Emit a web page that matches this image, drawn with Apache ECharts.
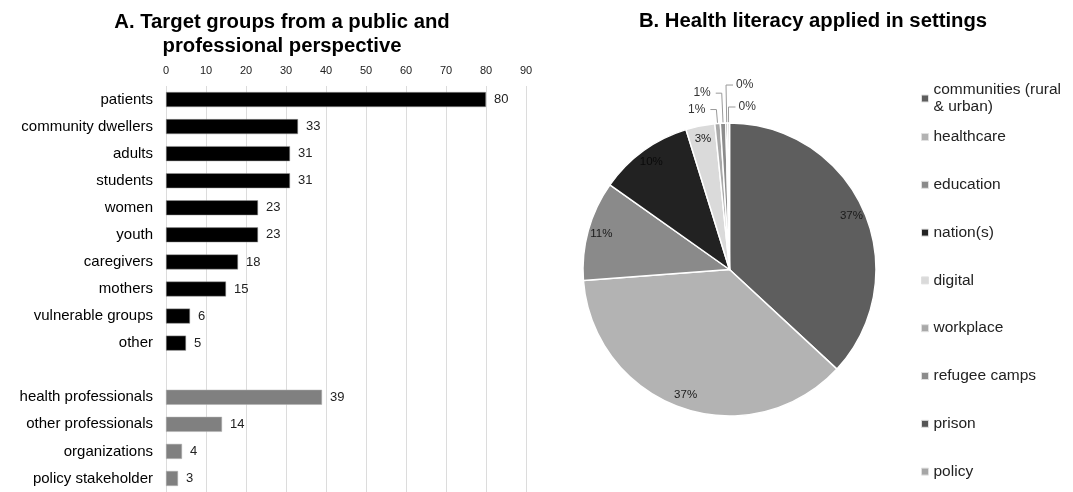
<!DOCTYPE html>
<html><head><meta charset="utf-8">
<script src="https://cdn.jsdelivr.net/npm/echarts@6/dist/echarts.min.js"></script>
<style>html,body{margin:0;padding:0;background:#fff}#c{width:1073px;height:492px}</style>
</head><body><div id="c"></div>
<script>
// ---- data ----
const publicGroups = ['patients','community dwellers','adults','students','women','youth','caregivers','mothers','vulnerable groups','other'];
const publicCounts = [80,33,31,31,23,23,18,15,6,5];
const professionalGroups = ['health professionals','other professionals','organizations','policy stakeholder'];
const professionalCounts = [39,14,4,3];
const countTicks = [0,10,20,30,40,50,60,70,80,90];

const settings = ['communities (rural & urban)','healthcare','education','nation(s)','digital','workplace','refugee camps','prison','policy'];
const settingShares = [36.9,36.9,11.0,10.4,3.2,0.6,0.6,0.2,0.2];

// ---- styles ----
const settingColors = ['#5e5e5e','#b3b3b3','#8a8a8a','#222222','#dadada','#a9a9a9','#8c8c8c','#555555','#a6a6a6'];
const insideLabelColors = ['#1a1a1a','#1a1a1a','#1a1a1a','#0a0a0a','#1a1a1a','#1a1a1a','#1a1a1a','#1a1a1a','#1a1a1a'];
const FONT = '"Liberation Sans", Arial, Helvetica, sans-serif';

const categories = [...publicGroups, '', ...professionalGroups];
const gap = 1;
const publicData = [...publicCounts, ...new Array(gap + professionalCounts.length).fill(null)];
const profData = [...new Array(publicCounts.length + gap).fill(null), ...professionalCounts];

// small-slice leader line lengths (index -> [length, length2])
const smallLine = {5:[14,6], 6:[30,6], 7:[38,7], 8:[16,7]};
const mirrorRight = {7:true, 8:true};

const pieData = settings.map((n,i)=>{
  const small = settingShares[i] < 2;
  const d = {name:n, value:settingShares[i], itemStyle:{color:settingColors[i]}};
  if (small) {
    d.label = {show:true, position:'outside'};
    d.labelLine = {show:true, length:smallLine[i][0], length2:smallLine[i][1]};
  } else {
    d.label = {show:false};
    d.labelLine = {show:false};
  }
  return d;
});
const overlayData = settings.map((n,i)=>({name:n, value:settingShares[i],
  label:{show: settingShares[i] >= 2, color: insideLabelColors[i]}}));

const pctFmt = p => Math.round(p.percent) + '%';

const chart = echarts.init(document.getElementById('c'), null, {renderer:'canvas'});
chart.setOption({
  animation:false,
  textStyle:{fontFamily:FONT},
  title:[
    {text:'A. Target groups from a public and\nprofessional perspective', left:277, top:5, textAlign:'center',
     textStyle:{fontSize:20.3, fontWeight:'bold', color:'#000', lineHeight:24, fontFamily:FONT}},
    {text:'B. Health literacy applied in settings', left:808, top:6, textAlign:'center',
     textStyle:{fontSize:20.3, fontWeight:'bold', color:'#000', fontFamily:FONT}}
  ],
  legend:[
    {orient:'vertical', left:916, top:76.5, icon:'rect', itemWidth:7, itemHeight:7,
     data:[{name:settings[0], itemStyle:{color:settingColors[0], borderColor:'#e0e0e0', borderWidth:1}}],
     formatter: n => n.replace(' & ', '\n& '),
     textStyle:{fontSize:15.5, color:'#222', lineHeight:17, fontFamily:FONT}},
    {orient:'vertical', left:916, top:123.5, icon:'rect', itemWidth:7, itemHeight:7, itemGap:30.8,
     data: settings.slice(1).map((n,i)=>({name:n, itemStyle:{color:settingColors[i+1], borderColor:'#e0e0e0', borderWidth:1}})),
     textStyle:{fontSize:15.5, color:'#222', lineHeight:17, fontFamily:FONT}}
  ],
  grid:{left:166, width:360, top:86, height:408, containLabel:false},
  xAxis:{type:'value', position:'top', min:countTicks[0], max:countTicks[countTicks.length-1], interval:countTicks[1]-countTicks[0],
    axisLine:{show:false}, axisTick:{show:false},
    axisLabel:{fontSize:11, color:'#222', margin:10, fontFamily:FONT},
    splitLine:{show:true, lineStyle:{color:'#dcdcdc', width:1}}},
  yAxis:{type:'category', data:categories, inverse:true,
    axisLine:{show:false}, axisTick:{show:false},
    axisLabel:{fontSize:15, color:'#000', margin:13, fontFamily:FONT}},
  series:[
    {type:'bar', data:publicData, stack:'g', barWidth:15,
     itemStyle:{color:'#000', borderColor:'#9a9a9a', borderWidth:0.5},
     label:{show:true, position:'right', distance:8, fontSize:13, color:'#222', fontFamily:FONT}},
    {type:'bar', data:profData, stack:'g', barWidth:15,
     itemStyle:{color:'#808080', borderColor:'#b0b0b0', borderWidth:0.5},
     label:{show:true, position:'right', distance:8, fontSize:13, color:'#222', fontFamily:FONT}},
    {type:'pie', center:[729.5,269.5], radius:146.5, startAngle:90, clockwise:true,
     avoidLabelOverlap:false, minShowLabelAngle:0, data:pieData,
     itemStyle:{borderColor:'#fff', borderWidth:1.5},
     label:{formatter:pctFmt, fontSize:12, color:'#333', fontFamily:FONT},
     labelLine:{lineStyle:{color:'#999', width:1}, smooth:false},
     labelLayout: function(p){
       if (!mirrorRight[p.dataIndex] || !p.labelLinePoints) return {hideOverlap:false};
       const pts = p.labelLinePoints;
       const p1 = pts[1], p2 = pts[2];
       const nx = 2*p1[0] - p2[0];
       return {hideOverlap:false, x:nx + 3, y:p2[1], align:'left', verticalAlign:'middle',
               labelLinePoints:[pts[0], p1, [nx, p2[1]]]};
     }},
    {type:'pie', center:[729.5,269.5], radius:[114,146], startAngle:90, clockwise:true, silent:true,
     avoidLabelOverlap:false, data:overlayData,
     itemStyle:{color:'rgba(0,0,0,0)', borderWidth:0},
     label:{position:'inside', formatter:pctFmt, fontSize:11.5, fontFamily:FONT},
     labelLine:{show:false}, emphasis:{disabled:true}}
  ]
});
</script></body></html>
